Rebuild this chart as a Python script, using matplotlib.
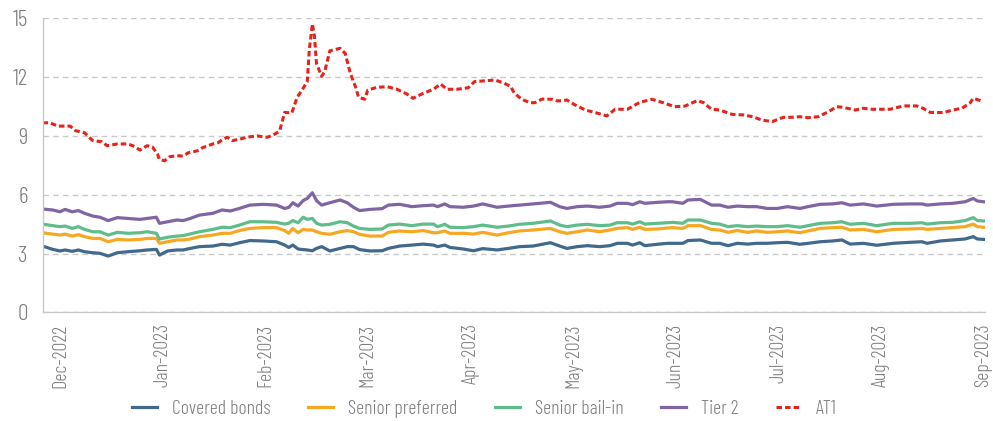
import numpy as np
import matplotlib
matplotlib.use("Agg")
import matplotlib.pyplot as plt
from matplotlib import font_manager

# light condensed face for every label, with fallbacks
names = {f.name for f in font_manager.fontManager.ttflist}
family = [n for n in ['Barlow Condensed', 'Liberation Sans Narrow', 'DejaVu Sans'] if n in names]
plt.rcParams['font.family'] = family
plt.rcParams['font.weight'] = 300

# month position: 0 = Dec-2022, 1 = Jan-2023, ... 9 = Sep-2023
months = ['Dec-2022', 'Jan-2023', 'Feb-2023', 'Mar-2023', 'Apr-2023',
          'May-2023', 'Jun-2023', 'Jul-2023', 'Aug-2023', 'Sep-2023']

t_main = [-0.17, -0.07, 0.00, 0.05, 0.12, 0.18, 0.24, 0.32, 0.39, 0.47,
          0.56, 0.66, 0.78, 0.85, 0.94, 0.97, 1.05, 1.14, 1.20, 1.27,
          1.36, 1.49, 1.58, 1.66, 1.75, 1.85, 1.98, 2.11, 2.19, 2.23,
          2.27, 2.32, 2.37, 2.41, 2.46, 2.50, 2.55, 2.63, 2.73, 2.80,
          2.86, 2.92, 3.02, 3.14, 3.20, 3.31, 3.43, 3.54, 3.64, 3.68,
          3.75, 3.80, 3.93, 4.03, 4.12, 4.26, 4.37, 4.48, 4.61, 4.78,
          4.87, 4.94, 5.04, 5.14, 5.26, 5.36, 5.43, 5.53, 5.58, 5.65,
          5.70, 5.82, 5.92, 5.97, 6.07, 6.12, 6.24, 6.35, 6.43, 6.51,
          6.60, 6.70, 6.79, 6.89, 6.99, 7.09, 7.21, 7.29, 7.41, 7.53,
          7.62, 7.70, 7.83, 7.96, 8.12, 8.28, 8.40, 8.45, 8.58, 8.70,
          8.82, 8.90, 8.94, 9.00]

covered = [3.38, 3.21, 3.13, 3.18, 3.11, 3.18, 3.09, 3.04, 3.01, 2.87,
           3.04, 3.09, 3.14, 3.18, 3.21, 2.92, 3.13, 3.18, 3.18, 3.26,
           3.35, 3.38, 3.47, 3.43, 3.55, 3.66, 3.64, 3.60, 3.43, 3.31,
           3.43, 3.23, 3.20, 3.18, 3.14, 3.26, 3.35, 3.13, 3.26, 3.35,
           3.35, 3.20, 3.13, 3.14, 3.26, 3.38, 3.43, 3.48, 3.43, 3.35,
           3.43, 3.31, 3.23, 3.14, 3.25, 3.18, 3.26, 3.35, 3.38, 3.55,
           3.38, 3.26, 3.35, 3.40, 3.35, 3.40, 3.52, 3.52, 3.43, 3.55,
           3.40, 3.47, 3.52, 3.52, 3.52, 3.66, 3.69, 3.52, 3.52, 3.40,
           3.52, 3.48, 3.52, 3.52, 3.55, 3.57, 3.47, 3.52, 3.60, 3.64,
           3.69, 3.48, 3.52, 3.42, 3.52, 3.57, 3.60, 3.52, 3.64, 3.69,
           3.74, 3.86, 3.74, 3.72]

senior_pref = [4.06, 3.99, 3.94, 3.99, 3.89, 3.96, 3.86, 3.77, 3.77, 3.60,
               3.72, 3.69, 3.72, 3.77, 3.77, 3.52, 3.60, 3.69, 3.69, 3.74,
               3.86, 3.94, 4.03, 4.03, 4.17, 4.28, 4.32, 4.32, 4.17, 4.03,
               4.28, 4.06, 4.23, 4.20, 4.20, 4.11, 4.03, 3.98, 4.11, 4.17,
               4.11, 3.98, 3.89, 3.89, 4.08, 4.15, 4.11, 4.17, 4.06, 4.06,
               4.15, 4.03, 4.03, 3.99, 4.08, 3.94, 4.06, 4.15, 4.20, 4.28,
               4.11, 4.03, 4.11, 4.20, 4.11, 4.20, 4.28, 4.32, 4.23, 4.34,
               4.23, 4.25, 4.30, 4.32, 4.28, 4.42, 4.42, 4.23, 4.20, 4.08,
               4.17, 4.08, 4.15, 4.08, 4.11, 4.15, 4.06, 4.15, 4.28, 4.32,
               4.34, 4.20, 4.23, 4.11, 4.23, 4.25, 4.28, 4.23, 4.28, 4.32,
               4.37, 4.50, 4.37, 4.34]

senior_bail = [4.50, 4.42, 4.37, 4.40, 4.28, 4.37, 4.23, 4.11, 4.11, 3.94,
               4.08, 4.03, 4.06, 4.11, 4.03, 3.74, 3.83, 3.89, 3.91, 4.00,
               4.11, 4.23, 4.34, 4.32, 4.45, 4.62, 4.62, 4.59, 4.50, 4.55,
               4.68, 4.57, 4.85, 4.74, 4.79, 4.54, 4.45, 4.49, 4.62, 4.57,
               4.40, 4.28, 4.23, 4.25, 4.45, 4.50, 4.42, 4.50, 4.50, 4.37,
               4.49, 4.34, 4.32, 4.37, 4.45, 4.34, 4.40, 4.49, 4.54, 4.66,
               4.45, 4.37, 4.45, 4.49, 4.42, 4.45, 4.57, 4.57, 4.50, 4.62,
               4.50, 4.54, 4.57, 4.59, 4.54, 4.71, 4.71, 4.54, 4.50, 4.37,
               4.42, 4.37, 4.40, 4.37, 4.37, 4.42, 4.34, 4.42, 4.54, 4.57,
               4.62, 4.49, 4.54, 4.42, 4.54, 4.54, 4.57, 4.50, 4.57, 4.59,
               4.68, 4.83, 4.68, 4.66]

tier2 = [5.27, 5.22, 5.13, 5.25, 5.13, 5.19, 5.05, 4.91, 4.85, 4.68,
         4.83, 4.79, 4.74, 4.79, 4.85, 4.54, 4.62, 4.71, 4.68, 4.79,
         4.96, 5.05, 5.22, 5.17, 5.30, 5.47, 5.51, 5.47, 5.30, 5.35,
         5.59, 5.42, 5.70, 5.81, 6.10, 5.70, 5.47, 5.59, 5.73, 5.59,
         5.36, 5.19, 5.25, 5.29, 5.47, 5.51, 5.39, 5.44, 5.47, 5.39,
         5.53, 5.39, 5.36, 5.42, 5.53, 5.36, 5.42, 5.47, 5.53, 5.61,
         5.39, 5.30, 5.39, 5.42, 5.36, 5.42, 5.56, 5.56, 5.49, 5.64,
         5.56, 5.61, 5.64, 5.64, 5.56, 5.73, 5.76, 5.47, 5.47, 5.36,
         5.42, 5.39, 5.39, 5.30, 5.30, 5.39, 5.30, 5.39, 5.51, 5.53,
         5.59, 5.47, 5.53, 5.42, 5.51, 5.53, 5.53, 5.47, 5.53, 5.56,
         5.64, 5.81, 5.68, 5.64]

t_at1 = [-0.17, -0.10, -0.02, 0.10, 0.15, 0.24, 0.32, 0.41, 0.46, 0.56,
         0.66, 0.71, 0.78, 0.85, 0.90, 0.95, 0.97, 1.02, 1.07, 1.14,
         1.20, 1.25, 1.34, 1.39, 1.49, 1.54, 1.59, 1.63, 1.68, 1.75,
         1.82, 1.92, 2.02, 2.08, 2.14, 2.19, 2.26, 2.31, 2.37, 2.41,
         2.43, 2.46, 2.48, 2.50, 2.55, 2.58, 2.63, 2.73, 2.78, 2.83,
         2.88, 2.91, 2.97, 3.00, 3.09, 3.19, 3.28, 3.38, 3.44, 3.54,
         3.64, 3.71, 3.77, 3.87, 3.98, 4.04, 4.16, 4.24, 4.32, 4.39,
         4.43, 4.50, 4.58, 4.63, 4.70, 4.80, 4.85, 4.94, 5.02, 5.12,
         5.21, 5.33, 5.41, 5.53, 5.65, 5.77, 5.88, 5.99, 6.09, 6.21,
         6.27, 6.35, 6.43, 6.50, 6.55, 6.66, 6.75, 6.84, 6.94, 7.05,
         7.14, 7.21, 7.29, 7.39, 7.49, 7.57, 7.63, 7.75, 7.83, 7.91,
         8.09, 8.22, 8.35, 8.41, 8.48, 8.61, 8.70, 8.79, 8.87, 8.90,
         8.97, 9.00]

at1 = [9.67, 9.67, 9.50, 9.50, 9.27, 9.16, 8.76, 8.70, 8.50, 8.59,
       8.59, 8.50, 8.28, 8.50, 8.44, 8.08, 7.80, 7.73, 7.94, 7.99,
       7.97, 8.14, 8.24, 8.40, 8.59, 8.65, 8.83, 8.93, 8.76, 8.83,
       8.93, 9.00, 8.93, 9.05, 9.24, 10.20, 10.17, 10.95, 11.43, 11.77,
       13.38, 14.72, 14.10, 12.70, 12.04, 12.28, 13.34, 13.47, 13.21, 12.19,
       11.51, 10.97, 10.87, 11.34, 11.48, 11.51, 11.39, 11.14, 10.92, 11.17,
       11.38, 11.65, 11.38, 11.38, 11.46, 11.77, 11.82, 11.85, 11.71, 11.53,
       11.17, 10.87, 10.69, 10.70, 10.88, 10.87, 10.78, 10.83, 10.58, 10.32,
       10.20, 10.02, 10.36, 10.36, 10.71, 10.87, 10.69, 10.49, 10.52, 10.80,
       10.70, 10.36, 10.32, 10.19, 10.10, 10.07, 9.98, 9.81, 9.73, 9.95,
       9.95, 9.98, 9.93, 9.98, 10.24, 10.49, 10.46, 10.32, 10.41, 10.36,
       10.36, 10.53, 10.53, 10.41, 10.20, 10.19, 10.32, 10.41, 10.69, 10.92,
       10.80, 10.80]

text_col = '#7f7f7f'
grid_col = '#c8c8c8'

fig = plt.figure(figsize=(9.93, 4.21), dpi=100)
ax = fig.add_axes([0.0433, 0.2582, 0.9487, 0.6983])

lw = 2.3
ax.plot(t_main, covered, color='#41698c', lw=lw, label='Covered bonds')
ax.plot(t_main, senior_pref, color='#f7a823', lw=lw, label='Senior preferred')
ax.plot(t_main, senior_bail, color='#5fbd8b', lw=lw, label='Senior bail-in')
ax.plot(t_main, tier2, color='#7f65a3', lw=lw, label='Tier 2')
ax.plot(t_at1, at1, color='#e5231b', lw=2.2, ls=(0, (1.8, 1.0)), label='AT1')

ax.set_xlim(-0.165, 9.015)
ax.set_ylim(0, 15)
ax.set_yticks([0, 3, 6, 9, 12, 15])
ax.set_xticks(range(len(months)))
ax.set_xticklabels(months, rotation=90)

ax.grid(axis='y', color=grid_col, ls=(0, (4, 3)), lw=1.0)
ax.set_axisbelow(True)
for side in ['top', 'right']:
    ax.spines[side].set_visible(False)
for side in ['left', 'bottom']:
    ax.spines[side].set_color(grid_col)
    ax.spines[side].set_linewidth(1.0)

ax.tick_params(axis='both', length=0, colors=text_col)
ax.tick_params(axis='y', pad=11, labelsize=17)
ax.tick_params(axis='x', pad=8, labelsize=14.5)

fig.legend(loc='lower center', bbox_to_anchor=(0.488, -0.035), ncol=5,
           frameon=False, fontsize=14.3, handlelength=1.25, columnspacing=1.9,
           handletextpad=0.75, labelcolor=text_col)

fig.savefig('out.png', dpi=100)
